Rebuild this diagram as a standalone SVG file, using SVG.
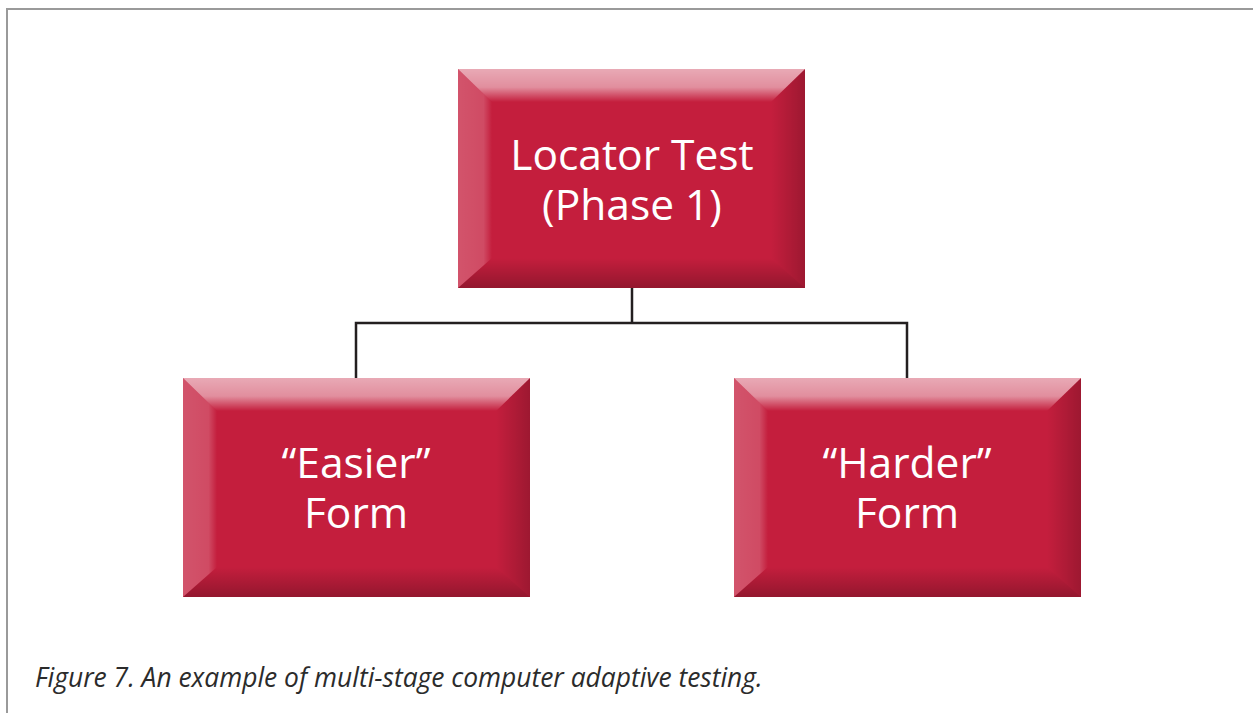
<svg xmlns="http://www.w3.org/2000/svg" width="1253" height="713" viewBox="0 0 1253 713">
  <defs>
    <linearGradient id="gTop" x1="0" y1="0" x2="0" y2="1">
      <stop offset="0" stop-color="#fff" stop-opacity="0.62"/>
      <stop offset="0.55" stop-color="#fff" stop-opacity="0.5"/>
      <stop offset="1" stop-color="#fff" stop-opacity="0"/>
    </linearGradient>
    <linearGradient id="gLeft" x1="0" y1="0" x2="1" y2="0">
      <stop offset="0" stop-color="#fff" stop-opacity="0.24"/>
      <stop offset="0.75" stop-color="#fff" stop-opacity="0.2"/>
      <stop offset="1" stop-color="#fff" stop-opacity="0"/>
    </linearGradient>
    <linearGradient id="gRight" x1="0" y1="0" x2="1" y2="0">
      <stop offset="0" stop-color="#000" stop-opacity="0"/>
      <stop offset="1" stop-color="#000" stop-opacity="0.2"/>
    </linearGradient>
    <linearGradient id="gBottom" x1="0" y1="0" x2="0" y2="1">
      <stop offset="0" stop-color="#000" stop-opacity="0"/>
      <stop offset="1" stop-color="#000" stop-opacity="0.25"/>
    </linearGradient>
    <g id="bevel">
      <rect x="0" y="0" width="347" height="219" fill="#c41e3d"/>
      <polygon points="0,0 34,33 34,189 0,219" fill="url(#gLeft)"/>
      <polygon points="347,0 313,33 313,189 347,219" fill="url(#gRight)"/>
      <polygon points="0,219 34,189 313,189 347,219" fill="url(#gBottom)"/>
      <polygon points="0,0 347,0 313,33 34,33" fill="url(#gTop)"/>
    </g>
  </defs>
  <style>
    .lbl { font-family: "Open Sans", "Liberation Sans", sans-serif; font-size: 42.5px; fill: #ffffff; text-anchor: middle; }
    .cap { font-family: "Open Sans", "Liberation Sans", sans-serif; font-size: 26.4px; font-style: italic; fill: #2b2b2b; }
    .conn { fill: none; stroke: #231f20; stroke-width: 2.5; }
  </style>
  <rect x="0" y="0" width="1253" height="713" fill="#ffffff"/>
  <path d="M7,713 V9 H1253" fill="none" stroke="#9a9a9a" stroke-width="2"/>
  <g id="connectors">
    <path class="conn" d="M632,288 V323"/>
    <path class="conn" d="M356,378 V323 H907 V378"/>
  </g>
  <g id="locator">
    <use href="#bevel" x="458" y="69"/>
    <text class="lbl"><tspan x="632" y="170">Locator Test</tspan><tspan x="632" y="220">(Phase 1)</tspan></text>
  </g>
  <g id="easier">
    <use href="#bevel" x="183" y="378"/>
    <text class="lbl"><tspan x="356" y="478">“Easier”</tspan><tspan x="356" y="528">Form</tspan></text>
  </g>
  <g id="harder">
    <use href="#bevel" x="734" y="378"/>
    <text class="lbl"><tspan x="907" y="478">“Harder”</tspan><tspan x="907" y="528">Form</tspan></text>
  </g>
  <text class="cap" x="35" y="687">Figure 7. An example of multi-stage computer adaptive testing.</text>
</svg>
